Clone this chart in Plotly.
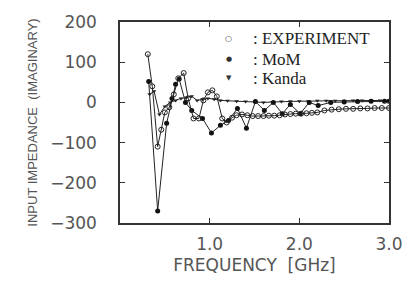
import plotly.graph_objects as go

# Experiment (open circles)
exp_f = [0.31, 0.36, 0.42, 0.46, 0.50, 0.55, 0.60, 0.65, 0.71, 0.76, 0.82, 0.88, 0.93, 0.98,
         1.03, 1.08, 1.14, 1.19, 1.25, 1.30, 1.36, 1.42, 1.48, 1.54, 1.60, 1.66, 1.72, 1.78,
         1.84, 1.90, 1.96, 2.02, 2.08, 2.14, 2.20, 2.28, 2.36, 2.44, 2.52, 2.60, 2.68, 2.76,
         2.84, 2.92, 3.0]
exp_x = [120, 40, -110, -68, -25, -12, 20, 60, 73, 10, -40, -40, 5, 25,
         30, 15, -40, -50, -38, -32, -30, -32, -34, -34, -34, -33, -33, -32,
         -30, -29, -28, -28, -27, -26, -25, -20, -18, -17, -16, -16, -15, -15,
         -14, -14, -14]

# MoM (filled circles)
mom_f = [0.32, 0.42, 0.52, 0.58, 0.62, 0.66, 0.73, 0.80, 0.92, 1.02, 1.12, 1.21, 1.31, 1.41,
         1.51, 1.61, 1.71, 1.81, 1.90, 2.01, 2.11, 2.21, 2.35, 2.50, 2.65, 2.80, 2.95, 3.0]
mom_x = [52, -270, -52, 10, 45, 58, 0, -20, -40, -76, -57, -45, -15, -64,
         2, -20, 0, -28, -5, -28, 0, -8, 0, 1, 2, 3, 3, 3]

# Kanda (small filled triangles)
kan_f = [0.33, 0.38, 0.44, 0.50, 0.56, 0.62, 0.68, 0.74, 0.80, 0.86, 0.92, 0.98, 1.05, 1.12,
         1.20, 1.30, 1.40, 1.50, 1.60, 1.70, 1.80, 1.90, 2.0, 2.1, 2.2, 2.3, 2.4, 2.5, 2.6,
         2.7, 2.8, 2.9, 3.0]
kan_x = [20, 28, -30, -10, 0, 5, 10, 12, 15, 5, 8, 10, 8, 5,
         4, 3, 2, 1, 0, 1, 2, 3, 3, 3, 4, 4, 4, 4, 5, 5, 5, 5, 5]

x_ticks = [1.0, 2.0, 3.0]
x_tick_labels = ["1.0", "2.0", "3.0"]
y_ticks = [-300, -200, -100, 0, 100, 200]

legend_labels = [": EXPERIMENT", ": MoM", ": Kanda"]
legend_symbols = ["○", "●", "▼"]
legend_sym_sizes = [8, 7, 7]

fig = go.Figure()
line = dict(color="#222", width=1)
fig.add_trace(go.Scatter(x=kan_f, y=kan_x, mode="lines+markers", line=line,
                         marker=dict(symbol="triangle-down", size=4, color="#222")))
fig.add_trace(go.Scatter(x=mom_f, y=mom_x, mode="lines+markers", line=line,
                         marker=dict(symbol="circle", size=5, color="#111")))
fig.add_trace(go.Scatter(x=exp_f, y=exp_x, mode="lines+markers", line=line,
                         marker=dict(symbol="circle-open", size=5, color="#222",
                                     line=dict(width=1))))

axis_common = dict(showline=True, linecolor="#333", linewidth=1.5, mirror="ticks",
                   ticks="inside", ticklen=5, tickcolor="#333", tickwidth=1.2,
                   showgrid=False, zeroline=False,
                   tickfont=dict(family="DejaVu Sans", size=17, color="#555"))

fig.update_xaxes(range=[0, 3.0], tickvals=x_ticks, ticktext=x_tick_labels,
                 ticklabelstandoff=5,
                 title=dict(text="FREQUENCY  [GHz]", standoff=6,
                            font=dict(family="DejaVu Sans", size=17, color="#555")),
                 **axis_common)
fig.update_yaxes(range=[-300, 200], tickvals=y_ticks, ticklabelstandoff=18,
                 title=dict(text="INPUT IMPEDANCE  (IMAGINARY)", standoff=10,
                            font=dict(family="Liberation Sans", size=13, color="#555")),
                 **axis_common)

rows_y = [0.919, 0.815, 0.720]
for sym, sz, lab, yy in zip(legend_symbols, legend_sym_sizes, legend_labels, rows_y):
    fig.add_annotation(xref="paper", yref="paper", x=0.404, y=yy, text=sym,
                       showarrow=False, xanchor="center", yanchor="middle",
                       font=dict(family="DejaVu Sans", size=sz, color="#333"))
    fig.add_annotation(xref="paper", yref="paper", x=0.487, y=yy, text=lab,
                       showarrow=False, xanchor="left", yanchor="middle",
                       font=dict(family="Liberation Serif", size=17, color="#222"))

fig.update_layout(width=415, height=284, showlegend=False,
                  margin=dict(l=120, r=18, t=16, b=57),
                  paper_bgcolor="white", plot_bgcolor="white")

fig.write_html("out.html", config={"displayModeBar": False},
               post_script="document.body.style.margin='0';")
